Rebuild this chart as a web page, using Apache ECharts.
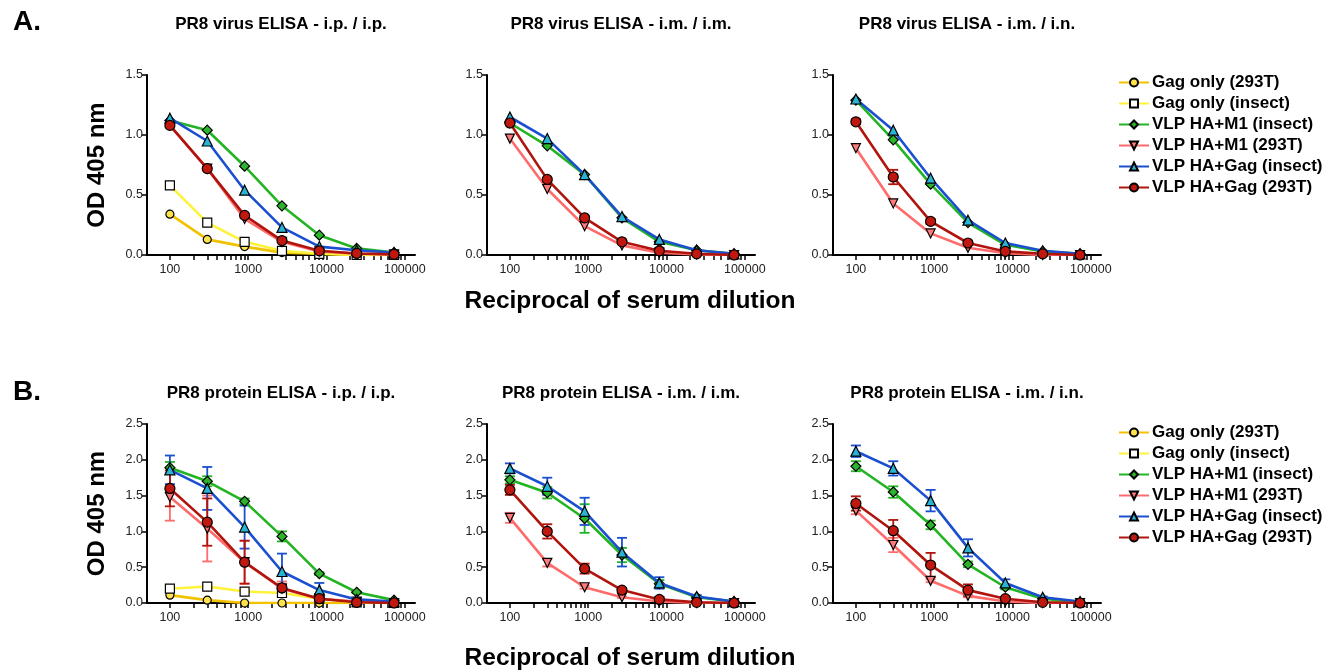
<!DOCTYPE html>
<html lang="en">
<head>
    <meta charset="UTF-8">
    <title>PR8 ELISA</title>
    <style>
        html, body { margin: 0; padding: 0; background: #fff; }
        #main { width: 1333px; height: 672px; }
    </style>
</head>
<body>
    <div id="main"></div>
    <script src="https://cdn.jsdelivr.net/npm/echarts@6/dist/echarts.min.js"></script>
    <script>
        // serum dilutions (3-fold)
        var dilutions = [100, 300, 900, 2700, 8100, 24300, 72900];
        var majorTicks = [100, 1000, 10000, 100000];
        var minorTicks = [200, 300, 400, 500, 600, 700, 800, 900,
                          2000, 3000, 4000, 5000, 6000, 7000, 8000, 9000,
                          20000, 30000, 40000, 50000, 60000, 70000, 80000, 90000];

        var seriesNames = ['Gag only (293T)', 'Gag only (insect)', 'VLP HA+M1 (insect)',
                           'VLP HA+M1 (293T)', 'VLP HA+Gag (insect)', 'VLP HA+Gag (293T)'];
        var panelTitles = ['PR8 virus ELISA - i.p. / i.p.', 'PR8 virus ELISA - i.m. / i.m.', 'PR8 virus ELISA - i.m. / i.n.',
                           'PR8 protein ELISA - i.p. / i.p.', 'PR8 protein ELISA - i.m. / i.m.', 'PR8 protein ELISA - i.m. / i.n.'];

        // rows follow seriesNames order, null = not measured in that panel
        var virusIpIp = [
            [0.34, 0.13, 0.07, 0.02, 0.01, 0.0, 0.0],
            [0.58, 0.27, 0.11, 0.035, 0.01, 0.0, 0.0],
            [1.12, 1.04, 0.74, 0.41, 0.165, 0.055, 0.02],
            [1.08, 0.72, 0.30, 0.11, 0.03, 0.01, 0.005],
            [1.14, 0.95, 0.54, 0.23, 0.07, 0.04, 0.02],
            [1.08, 0.72, 0.33, 0.12, 0.035, 0.013, 0.005]
        ];
        var virusImIm = [
            null,
            null,
            [1.10, 0.91, 0.67, 0.31, 0.11, 0.04, 0.01],
            [0.97, 0.55, 0.24, 0.08, 0.02, 0.005, 0.0],
            [1.15, 0.97, 0.67, 0.32, 0.13, 0.04, 0.01],
            [1.10, 0.63, 0.31, 0.11, 0.035, 0.01, 0.0]
        ];
        var virusImIn = [
            null,
            null,
            [1.29, 0.96, 0.59, 0.27, 0.085, 0.03, 0.01],
            [0.89, 0.43, 0.18, 0.06, 0.015, 0.0, 0.0],
            [1.30, 1.04, 0.64, 0.29, 0.10, 0.035, 0.01],
            [1.11, 0.65, 0.28, 0.10, 0.03, 0.01, 0.0]
        ];
        var virusImInErr = [
            null, null, null, null, null,
            [0.02, 0.06, 0.02, 0.01, 0, 0, 0]
        ];

        var proteinIpIp = [
            [0.11, 0.04, 0.0, 0.0, 0.0, 0.0, 0.0],
            [0.20, 0.23, 0.16, 0.14, 0.06, 0.01, 0.0],
            [1.89, 1.70, 1.42, 0.93, 0.41, 0.15, 0.04],
            [1.48, 1.04, 0.57, 0.20, 0.06, 0.02, 0.0],
            [1.86, 1.60, 1.06, 0.44, 0.18, 0.05, 0.02],
            [1.60, 1.13, 0.57, 0.21, 0.06, 0.01, 0.0]
        ];
        var proteinIpIpErr = [
            null,
            [0.03, 0.02, 0, 0, 0, 0, 0],
            [0.08, 0.07, 0.04, 0.07, 0.02, 0.01, 0],
            [0.33, 0.46, 0.30, 0.10, 0.02, 0, 0],
            [0.20, 0.30, 0.30, 0.25, 0.10, 0.02, 0],
            [0.25, 0.33, 0.30, 0.05, 0.02, 0, 0]
        ];
        var proteinImIm = [
            null,
            null,
            [1.72, 1.54, 1.18, 0.67, 0.27, 0.08, 0.02],
            [1.19, 0.56, 0.22, 0.08, 0.02, 0.0, 0.0],
            [1.88, 1.63, 1.28, 0.71, 0.28, 0.09, 0.02],
            [1.58, 1.00, 0.48, 0.18, 0.05, 0.01, 0.0]
        ];
        var proteinImImErr = [
            null,
            null,
            [0.05, 0.08, 0.20, 0.10, 0.05, 0.01, 0],
            [0.07, 0.05, 0.02, 0.01, 0, 0, 0],
            [0.07, 0.12, 0.19, 0.20, 0.08, 0.02, 0],
            [0.07, 0.10, 0.07, 0.03, 0.01, 0, 0]
        ];
        var proteinImIn = [
            null,
            null,
            [1.91, 1.55, 1.09, 0.54, 0.22, 0.06, 0.01],
            [1.29, 0.81, 0.31, 0.10, 0.02, 0.0, 0.0],
            [2.12, 1.88, 1.43, 0.77, 0.28, 0.08, 0.02],
            [1.39, 1.01, 0.53, 0.18, 0.06, 0.01, 0.0]
        ];
        var proteinImInErr = [
            null,
            null,
            [0.07, 0.08, 0.06, 0.04, 0.03, 0.01, 0],
            [0.05, 0.10, 0.02, 0.02, 0, 0, 0],
            [0.08, 0.10, 0.15, 0.12, 0.05, 0.01, 0],
            [0.10, 0.15, 0.17, 0.08, 0.02, 0, 0]
        ];

        var panels = [virusIpIp, virusImIm, virusImIn, proteinIpIp, proteinImIm, proteinImIn];
        var panelErrs = [null, null, virusImInErr, proteinIpIpErr, proteinImImErr, proteinImInErr];

        // look of each series
        var lineColors = ['#F2C200', '#FFF23A', '#22B422', '#FF6B6B', '#1A4FCF', '#B0140C'];
        var fillColors = ['#FFE34D', '#FFFFFF', '#2CB52C', '#FF7A7A', '#2BB3D6', '#C0180E'];
        var symbols = ['circle', 'rect', 'diamond', 'path://M0,0L10,0L5,9Z', 'triangle', 'circle'];
        var symbolSizes = [8, 9, 10, 9, 10, 10];

        var FONT = '"Liberation Sans", Arial, Helvetica, sans-serif';
        var lefts = [147, 487, 833];
        var tops = [75, 424];
        var heights = [180, 179];

        var myChart = echarts.init(document.getElementById('main'));

        var grids = [], xAxes = [], yAxes = [], series = [];
        for (var p = 0; p < 6; p++) {
            var row = p < 3 ? 0 : 1;
            grids.push({ left: lefts[p % 3], top: tops[row], width: 268, height: heights[row] });
            xAxes.push({
                type: 'log', logBase: 10, gridIndex: p, min: 51, max: 135000,
                axisLine: { lineStyle: { color: '#000', width: 2 } },
                axisTick: { customValues: majorTicks.concat(minorTicks), length: 5, lineStyle: { color: '#000', width: 1.5 } },
                axisLabel: {
                    customValues: majorTicks, fontSize: 12.5, color: '#222', margin: 8, fontFamily: FONT,
                    formatter: function (v) { return String(Math.round(v)); }
                },
                splitLine: { show: false }
            });
            yAxes.push({
                type: 'value', gridIndex: p, min: 0, max: row === 0 ? 1.5 : 2.5, interval: 0.5,
                name: p % 3 === 0 ? 'OD 405 nm' : '',
                nameLocation: 'middle', nameGap: 38, nameRotate: 90,
                nameTextStyle: { fontSize: 24, fontWeight: 'bold', color: '#000', fontFamily: FONT },
                axisLine: { show: true, lineStyle: { color: '#000', width: 2 } },
                axisTick: { show: true, length: 5, lineStyle: { color: '#000', width: 1.5 } },
                axisLabel: { fontSize: 12.5, color: '#222', margin: 4, fontFamily: FONT,
                    formatter: function (v) { return v.toFixed(1); } },
                splitLine: { show: false }
            });

            var rows = panels[p];
            var errs = panelErrs[p];
            for (var s = 0; s < 6; s++) {
                if (!rows[s]) continue;
                var vals = rows[s];
                if (errs && errs[s]) {
                    (function (color, e, v) {
                        series.push({
                            type: 'custom', xAxisIndex: p, yAxisIndex: p, z: 1, silent: true,
                            data: dilutions.map(function (d, i) { return [d, v[i], e[i]]; }).filter(function (a) { return a[2] > 0; }),
                            renderItem: function (params, api) {
                                var x = api.value(0), y = api.value(1), err = api.value(2);
                                var top = api.coord([x, y + err]);
                                var bot = api.coord([x, Math.max(y - err, 0)]);
                                var hw = 5;
                                var st = { stroke: color, lineWidth: 1.8 };
                                return {
                                    type: 'group', children: [
                                        { type: 'line', shape: { x1: top[0], y1: top[1], x2: bot[0], y2: bot[1] }, style: st },
                                        { type: 'line', shape: { x1: top[0] - hw, y1: top[1], x2: top[0] + hw, y2: top[1] }, style: st },
                                        { type: 'line', shape: { x1: bot[0] - hw, y1: bot[1], x2: bot[0] + hw, y2: bot[1] }, style: st }
                                    ]
                                };
                            }
                        });
                    })(lineColors[s], errs[s], vals);
                }
                series.push({
                    name: seriesNames[s], type: 'line', xAxisIndex: p, yAxisIndex: p, z: 2 + s,
                    data: dilutions.map(function (d, i) { return [d, vals[i]]; }),
                    symbol: symbols[s], symbolSize: symbolSizes[s], showAllSymbol: true,
                    lineStyle: { color: lineColors[s], width: 2.6 },
                    itemStyle: { color: fillColors[s], borderColor: '#000', borderWidth: 1.2 }
                });
            }
        }

        var graphics = [
            { type: 'text', x: 27, y: 22, style: { text: 'A.', font: 'bold 28px ' + FONT, fill: '#000', align: 'center', verticalAlign: 'middle' } },
            { type: 'text', x: 27, y: 392, style: { text: 'B.', font: 'bold 28px ' + FONT, fill: '#000', align: 'center', verticalAlign: 'middle' } },
            { type: 'text', x: 630, y: 301, style: { text: 'Reciprocal of serum dilution', font: 'bold 24.5px ' + FONT, fill: '#000', align: 'center', verticalAlign: 'middle' } },
            { type: 'text', x: 630, y: 658, style: { text: 'Reciprocal of serum dilution', font: 'bold 24.5px ' + FONT, fill: '#000', align: 'center', verticalAlign: 'middle' } }
        ];
        for (var t = 0; t < 6; t++) {
            graphics.push({
                type: 'text', x: lefts[t % 3] + 134, y: t < 3 ? 24 : 393,
                style: { text: panelTitles[t], font: 'bold 17px ' + FONT, fill: '#000', align: 'center', verticalAlign: 'middle' }
            });
        }

        function legendAt(top) {
            return {
                data: seriesNames, orient: 'vertical', left: 1113, top: top,
                itemWidth: 30, itemHeight: 10, itemGap: 4,
                textStyle: { fontSize: 17, fontWeight: 'bold', color: '#000', fontFamily: FONT, padding: [0, 0, 0, -2] },
                selectedMode: false
            };
        }

        var option = {
            animation: false,
            backgroundColor: '#fff',
            textStyle: { fontFamily: FONT },
            grid: grids,
            xAxis: xAxes,
            yAxis: yAxes,
            legend: [legendAt(69), legendAt(419)],
            graphic: graphics,
            series: series
        };
        myChart.setOption(option);
    </script>
</body>
</html>
